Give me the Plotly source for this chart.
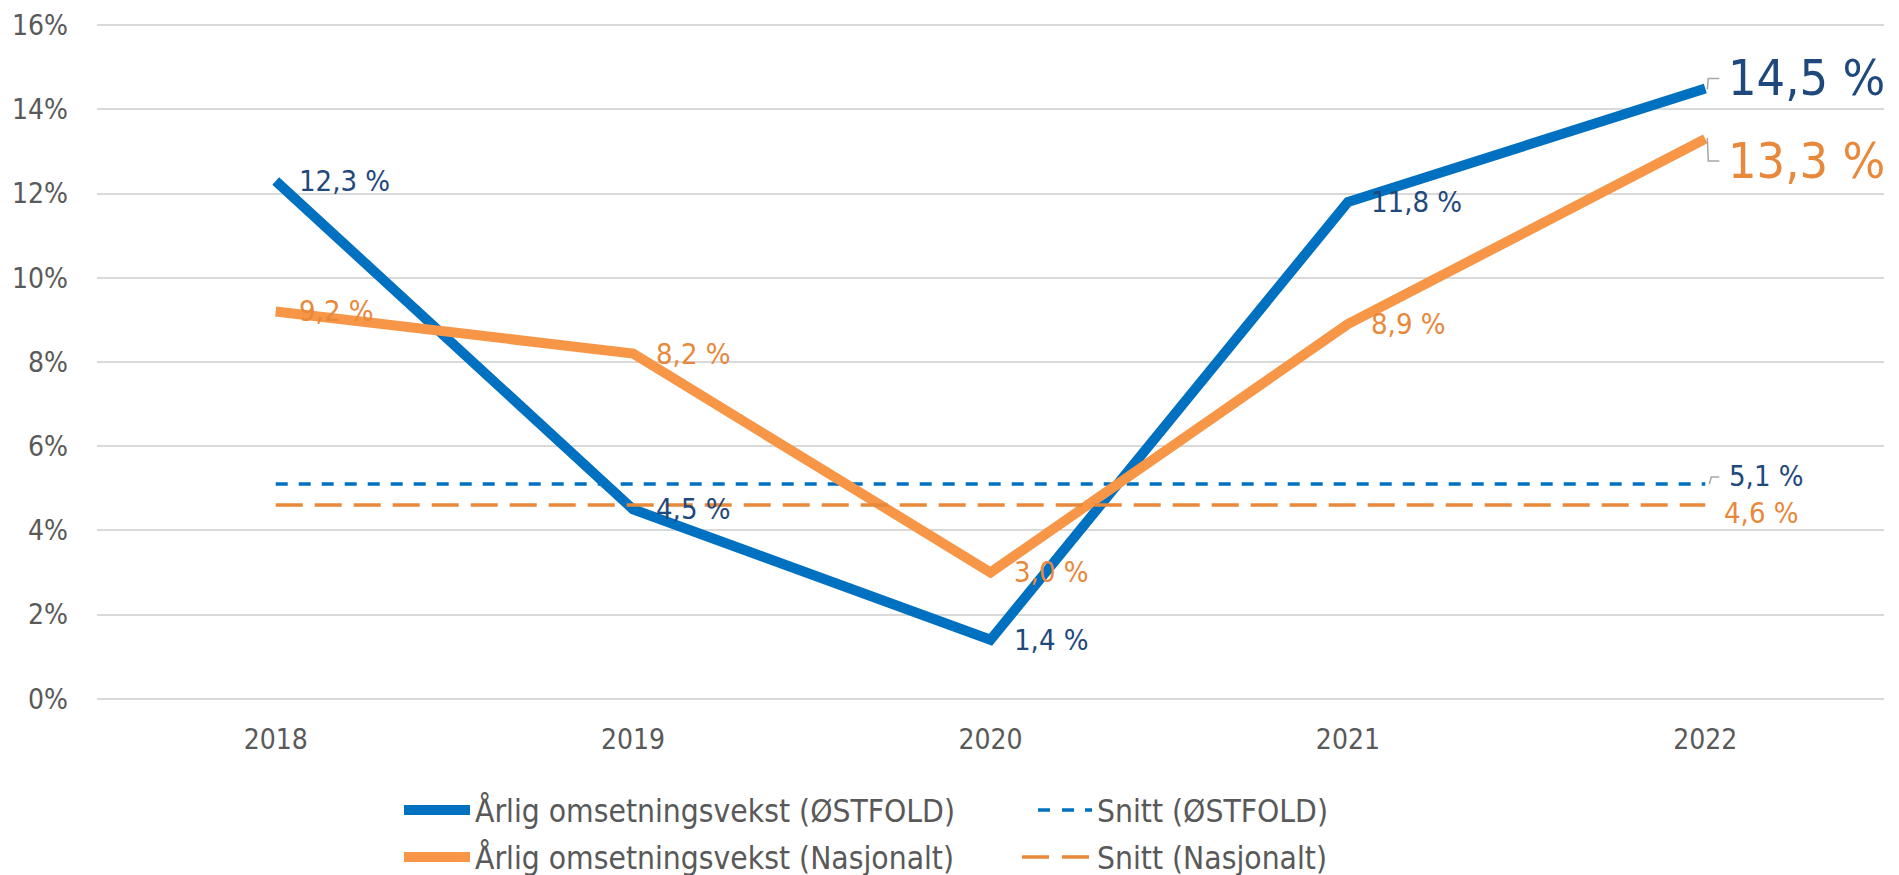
import plotly.graph_objects as go

years = [2018, 2019, 2020, 2021, 2022]
ostfold = [12.3, 4.5, 1.4, 11.8, 14.5]
nasjonalt = [9.2, 8.2, 3.0, 8.9, 13.3]
snitt_ostfold = 5.1
snitt_nasjonalt = 4.6
y_ticks = [0, 2, 4, 6, 8, 10, 12, 14, 16]

BLUE = "#0070C0"
ORANGE = "#F79646"
BLUE_TXT = "#1F497D"
ORANGE_TXT = "#E8883A"
GREY = "#595959"
FONT = "DejaVu Sans Condensed"

# the page body adds an 8 px offset, so the figure is 8 px smaller than the window
W, H = 1891, 867
ML, MR, MT, MB = 89, 15, 16, 175
PW, PH = W - ML - MR, H - MT - MB


def fmt(v):
    return f"{v:.1f}".replace(".", ",") + " %"


def px_x(fx):  # figure pixel -> paper x
    return (fx - ML) / PW


def px_y(fy):  # figure pixel -> paper y
    return (H - MB - fy) / PH


fig = go.Figure()
fig.add_trace(go.Scatter(x=years, y=ostfold, mode="lines", name="Årlig omsetningsvekst (ØSTFOLD)",
                         line=dict(color=BLUE, width=10), legend="legend"))
fig.add_trace(go.Scatter(x=years, y=[snitt_ostfold] * len(years), mode="lines", name="Snitt (ØSTFOLD)",
                         line=dict(color=BLUE, width=3.5, dash="12px,11px"), legend="legend"))
fig.add_trace(go.Scatter(x=years, y=nasjonalt, mode="lines", name="Årlig omsetningsvekst (Nasjonalt)",
                         line=dict(color=ORANGE, width=10), legend="legend2"))
fig.add_trace(go.Scatter(x=years, y=[snitt_nasjonalt] * len(years), mode="lines", name="Snitt (Nasjonalt)",
                         line=dict(color=ORANGE_TXT, width=3.5, dash="27px,12px"), legend="legend2"))

LBL = 29
for i in range(len(years) - 1):
    fig.add_annotation(x=years[i], y=ostfold[i], text=fmt(ostfold[i]), showarrow=False,
                       xanchor="left", yanchor="middle", xshift=21, yshift=0,
                       font=dict(family=FONT, size=LBL, color=BLUE_TXT))
    fig.add_annotation(x=years[i], y=nasjonalt[i], text=fmt(nasjonalt[i]), showarrow=False,
                       xanchor="left", yanchor="middle", xshift=21, yshift=0,
                       font=dict(family=FONT, size=LBL, color=ORANGE_TXT))

last = years[-1]
fig.add_annotation(x=last, y=ostfold[-1], text=fmt(ostfold[-1]), showarrow=False,
                   xanchor="left", yanchor="middle", xshift=21, yshift=10,
                   font=dict(family=FONT, size=50, color=BLUE_TXT))
fig.add_annotation(x=last, y=nasjonalt[-1], text=fmt(nasjonalt[-1]), showarrow=False,
                   xanchor="left", yanchor="middle", xshift=21, yshift=-22,
                   font=dict(family=FONT, size=50, color=ORANGE_TXT))
fig.add_annotation(x=last, y=snitt_ostfold, text=fmt(snitt_ostfold), showarrow=False,
                   xanchor="left", yanchor="middle", xshift=22, yshift=8,
                   font=dict(family=FONT, size=LBL, color=BLUE_TXT))
fig.add_annotation(x=last, y=snitt_nasjonalt, text=fmt(snitt_nasjonalt), showarrow=False,
                   xanchor="left", yanchor="middle", xshift=17, yshift=-8,
                   font=dict(family=FONT, size=LBL, color=ORANGE_TXT))

leader = dict(color="#A6A6A6", width=1.5)
fig.add_shape(type="path", xref="x", yref="y", xsizemode="pixel", ysizemode="pixel",
              xanchor=last, yanchor=ostfold[-1], path="M 2,-1 L 3,10 L 14,10", line=leader)
fig.add_shape(type="path", xref="x", yref="y", xsizemode="pixel", ysizemode="pixel",
              xanchor=last, yanchor=nasjonalt[-1], path="M 2,1 L 3,-22 L 14,-22", line=leader)
fig.add_shape(type="path", xref="x", yref="y", xsizemode="pixel", ysizemode="pixel",
              xanchor=last, yanchor=snitt_ostfold, path="M 4,0 L 6,7 L 14,7", line=leader)

# legend rows (figure pixels) and longer legend keys like the original
ROW1, ROW2 = 802, 849
for row, col, dash_w, dash_rng in [(ROW1, BLUE, 3.5, (1030, 1042)), (ROW2, ORANGE, 3.5, (1014, 1041))]:
    fig.add_shape(type="line", xref="paper", yref="paper", x0=px_x(396), x1=px_x(438),
                  y0=px_y(row), y1=px_y(row), line=dict(color=col, width=10), layer="above")
fig.add_shape(type="line", xref="paper", yref="paper", x0=px_x(1030), x1=px_x(1042),
              y0=px_y(ROW1), y1=px_y(ROW1), line=dict(color=BLUE, width=3.5), layer="above")
fig.add_shape(type="line", xref="paper", yref="paper", x0=px_x(1014), x1=px_x(1041),
              y0=px_y(ROW2), y1=px_y(ROW2), line=dict(color=ORANGE_TXT, width=3.5), layer="above")

leg_common = dict(orientation="h", xref="container", yref="container", xanchor="left", yanchor="middle",
                  entrywidth=577, entrywidthmode="pixels", traceorder="normal",
                  font=dict(family=FONT, size=31.5, color=GREY), bgcolor="rgba(0,0,0,0)")

fig.update_layout(
    width=W, height=H,
    paper_bgcolor="white", plot_bgcolor="white",
    margin=dict(l=ML, r=MR, t=MT, b=MB, autoexpand=False),
    font=dict(family=FONT, size=28, color=GREY),
    showlegend=True,
    legend=dict(x=427 / W, y=1 - ROW1 / H, **leg_common),
    legend2=dict(x=427 / W, y=1 - ROW2 / H, **leg_common),
)
fig.update_xaxes(range=[2017.5, 2022.5], tickmode="array", tickvals=years, ticktext=[str(y) for y in years],
                 showgrid=False, zeroline=False, showline=False, ticks="", automargin=False,
                 ticklabelstandoff=20,
                 tickfont=dict(family=FONT, size=28, color=GREY))
fig.update_yaxes(range=[-0.03, 16.03], tickmode="array", tickvals=y_ticks, ticktext=[f"{t}%" for t in y_ticks],
                 showgrid=True, gridcolor="#D9D9D9", gridwidth=1.5, zeroline=False, showline=False,
                 ticks="", ticklabelstandoff=28, automargin=False,
                 tickfont=dict(family=FONT, size=28, color=GREY))

fig.write_html("out.html")
